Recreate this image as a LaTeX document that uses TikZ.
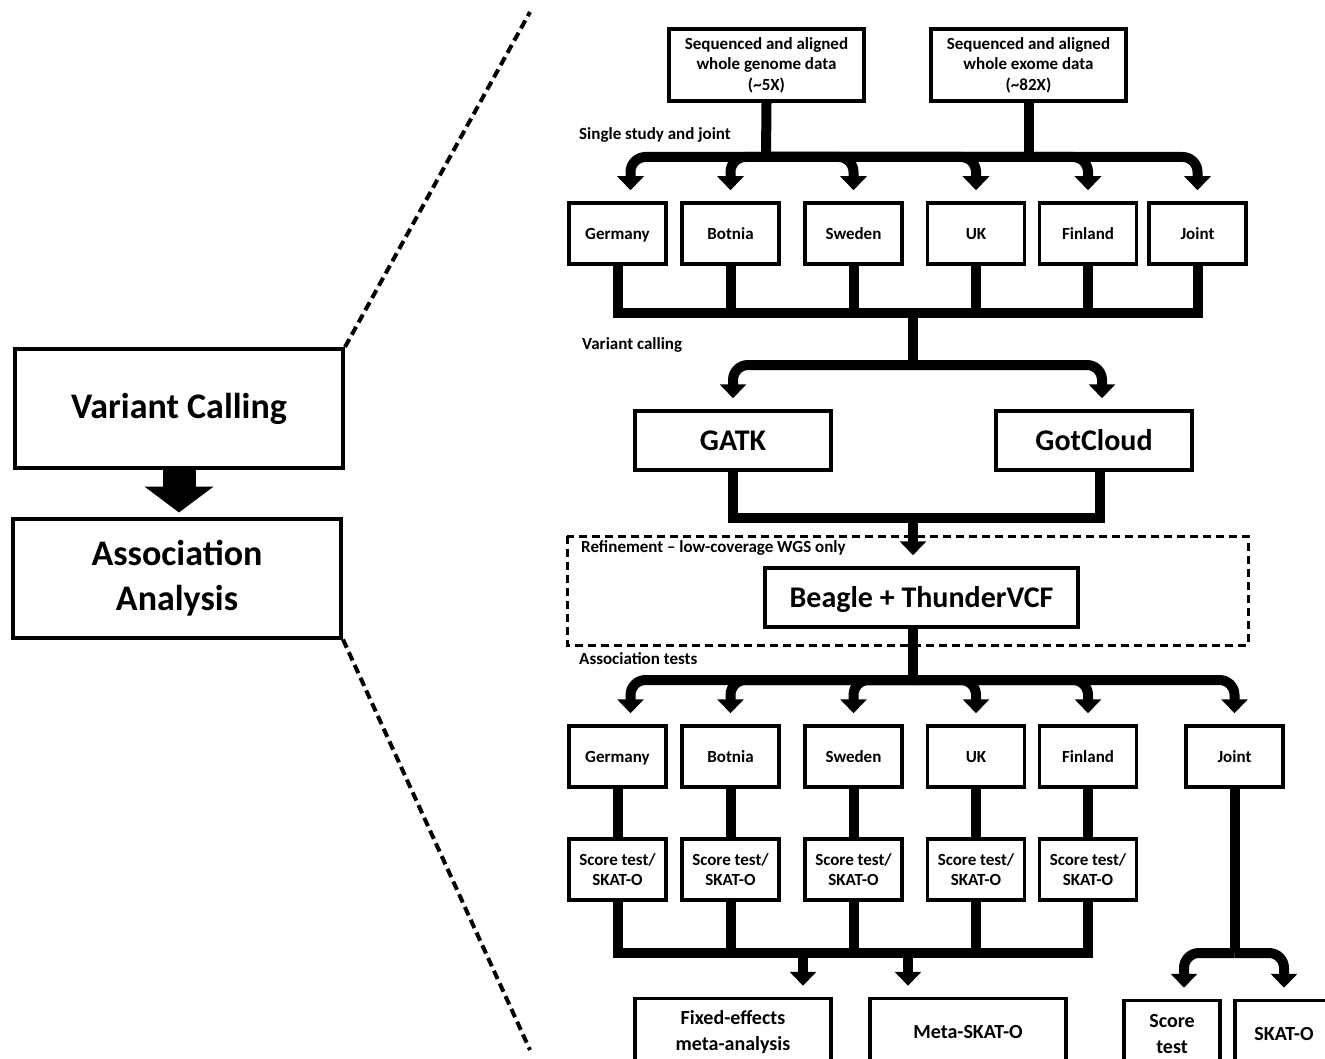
\documentclass[tikz,border=0pt]{standalone}
\usepackage{fontspec}
\setmainfont{Carlito}
\usepackage{tikz}
\usetikzlibrary{arrows.meta,calc}

\begin{document}
\begin{tikzpicture}[x=1pt,y=-1pt]
            \tikzstyle{stage}=[draw, line width=4pt, minimum width=328pt, minimum height=119pt, align=center, font=\bfseries\fontsize{36}{45}\selectfont]
            \tikzstyle{box}=[draw, line width=3.5pt, inner sep=2pt, align=center, font=\bfseries\fontsize{17}{20.5}\selectfont]
            \tikzstyle{sbox}=[box, minimum width=97pt, minimum height=61pt]
            \tikzstyle{cbox}=[sbox, text height=14pt, text depth=2pt]
            \tikzstyle{tool}=[box, minimum height=59pt, text height=24pt, text depth=5pt, font=\bfseries\fontsize{30}{36}\selectfont]
            \tikzstyle{res}=[box, minimum height=67pt, font=\bfseries\fontsize{20}{26}\selectfont]
            \tikzstyle{steplabel}=[anchor=west, inner sep=0pt, font=\bfseries\fontsize{17}{20}\selectfont]
            \tikzstyle{flow}=[line width=10pt]
            \tikzstyle{flowarr}=[flow, -{Triangle[width=26pt,length=14pt]}, shorten >=11pt, rounded corners=15pt]
            \tikzstyle{bigarr}=[line width=33pt, -{Triangle[width=68pt,length=26pt]}, shorten >=4pt]
            \tikzstyle{zoomline}=[line width=4pt, dash pattern=on 9pt off 5pt]
            \useasboundingbox (0,0) rectangle (1325,1059);
            \node[stage] (vc) at (179,408.5) {Variant Calling};
            \node[stage] (aa) at (177,578) {Association\\Analysis};
            \coordinate (zt) at (530,12);
            \coordinate (zb) at (530,1050);
            \node[box, minimum width=195pt, minimum height=72pt] (wgs) at (766.5,65) {Sequenced and aligned\\whole genome data\\(\textasciitilde5X)};
            \node[box, minimum width=195pt, minimum height=72pt] (wes) at (1028.5,65) {Sequenced and aligned\\whole exome data\\(\textasciitilde82X)};
            \node[cbox] (ger1) at (617.5,233.5) {Germany};
            \node[cbox] (bot1) at (730.5,233.5) {Botnia};
            \node[cbox] (swe1) at (853.5,233.5) {Sweden};
            \node[cbox] (uk1) at (976,233.5) {UK};
            \node[cbox] (fin1) at (1088,233.5) {Finland};
            \node[cbox] (joi1) at (1197.5,233.5) {Joint};
            \node[tool, minimum width=196pt] (gatk) at (733,440.5) {GATK};
            \node[tool, minimum width=196pt] (gotc) at (1094,440.5) {GotCloud};
            \node[tool, minimum width=313pt] (beagle) at (921.5,597.5) {Beagle + ThunderVCF};
            \node[cbox] (ger2) at (617.5,756.5) {Germany};
            \node[cbox] (bot2) at (730.5,756.5) {Botnia};
            \node[cbox] (swe2) at (853.5,756.5) {Sweden};
            \node[cbox] (uk2) at (976,756.5) {UK};
            \node[cbox] (fin2) at (1088,756.5) {Finland};
            \node[cbox] (joi2) at (1234.5,756.5) {Joint};
            \node[sbox] (sc1) at (617.5,869.5) {Score test/\\SKAT-O};
            \node[sbox] (sc2) at (730.5,869.5) {Score test/\\SKAT-O};
            \node[sbox] (sc3) at (853.5,869.5) {Score test/\\SKAT-O};
            \node[sbox] (sc4) at (976,869.5) {Score test/\\SKAT-O};
            \node[sbox] (sc5) at (1088,869.5) {Score test/\\SKAT-O};
            \node[res, minimum width=196pt] (fem) at (733,1032) {Fixed-effects\\meta-analysis};
            \node[res, minimum width=196pt] (meta) at (968,1032) {Meta-SKAT-O};
            \node[res, minimum width=96pt] (score) at (1172,1034) {Score\\test};
            \node[res, minimum width=98pt] (skato) at (1284,1034) {SKAT-O};
            \node[steplabel] (lab1) at (579,135) {Single study and joint};
            \node[steplabel] (lab2) at (582,345) {Variant calling};
            \node[steplabel] (lab3) at (581,548) {Refinement -- low-coverage WGS only};
            \node[steplabel] (lab4) at (579,659) {Association tests};
            \draw[line width=3pt, dash pattern=on 8pt off 5pt] (567,536) rectangle (1248,645);
            \coordinate (s1) at (766,157);
            \coordinate (m1) at (913,313);
            \coordinate (s2) at (913,365);
            \coordinate (m2) at (913,518);
            \coordinate (s3) at (913,680);
            \coordinate (m3) at (853,953);
            \coordinate (fa) at (803,953);
            \coordinate (ma) at (908,953);
            \coordinate (s4) at (1234.5,953);
            \draw[bigarr] (vc.south) -- (vc.south |- aa.north);
            \draw[zoomline] (vc.north east) -- (zt);
            \draw[zoomline] (aa.south east) -- (zb);
            \draw[flow] (wgs.south) -- (s1);
            \draw[flow] (wes.south) -- (wes.south |- s1);
            \draw[flowarr] (s1) -| ([xshift=13pt]ger1.north);
            \draw[flowarr] (s1) -| (bot1.north);
            \draw[flowarr] (s1) -| (swe1.north);
            \draw[flowarr] (s1) -| (uk1.north);
            \draw[flowarr] (s1) -| (fin1.north);
            \draw[flowarr] (s1) -| (joi1.north);
            \draw[flow] (ger1.south) |- (m1);
            \draw[flow] (bot1.south) |- (m1);
            \draw[flow] (swe1.south) |- (m1);
            \draw[flow] (uk1.south) |- (m1);
            \draw[flow] (fin1.south) |- (m1);
            \draw[flow] (joi1.south) |- (m1);
            \draw[flow] (m1) -- (s2);
            \draw[flowarr] (s2) -| (gatk.north);
            \draw[flowarr] (s2) -| ([xshift=8pt]gotc.north);
            \draw[flow] (gatk.south) |- (m2);
            \draw[flow] ([xshift=6pt]gotc.south) |- (m2);
            \draw[flowarr] (m2) -- (m2 |- beagle.north);
            \draw[flow] (s3 |- beagle.south) -- (s3);
            \draw[flowarr] (s3) -| ([xshift=13pt]ger2.north);
            \draw[flowarr] (s3) -| (bot2.north);
            \draw[flowarr] (s3) -| (swe2.north);
            \draw[flowarr] (s3) -| (uk2.north);
            \draw[flowarr] (s3) -| (fin2.north);
            \draw[flowarr] (s3) -| (joi2.north);
            \draw[flow] (ger2.south) -- (sc1.north);
            \draw[flow] (bot2.south) -- (sc2.north);
            \draw[flow] (swe2.south) -- (sc3.north);
            \draw[flow] (uk2.south) -- (sc4.north);
            \draw[flow] (fin2.south) -- (sc5.north);
            \draw[flow] (sc1.south) |- (m3);
            \draw[flow] (sc2.south) |- (m3);
            \draw[flow] (sc3.south) |- (m3);
            \draw[flow] (sc4.south) |- (m3);
            \draw[flow] (sc5.south) |- (m3);
            \draw[flowarr] (fa) -- (fa |- fem.north);
            \draw[flowarr] (ma) -- (ma |- meta.north);
            \draw[flow] (joi2.south) -- (s4);
            \draw[flowarr] (s4) -| ([xshift=12pt]score.north);
            \draw[flowarr] (s4) -| (skato.north);
        \end{tikzpicture}
\end{document}
